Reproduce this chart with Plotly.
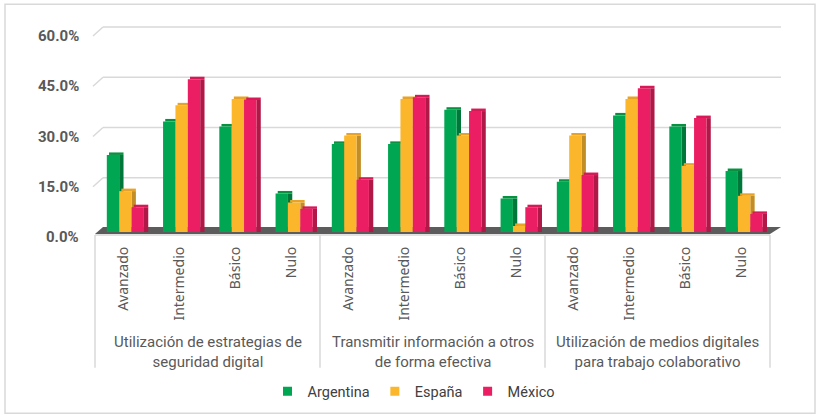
import plotly.graph_objects as go

groups = ["Utilización de estrategias de<br>seguridad digital",
          "Transmitir información a otros<br>de forma efectiva",
          "Utilización de medios digitales<br>para trabajo colaborativo"]
levels = ["Avanzado", "Intermedio", "Básico", "Nulo"]

argentina = [23.0, 33.0, 31.5, 11.5, 26.3, 26.3, 36.5, 10.0, 15.0, 34.8, 31.5, 18.2]
espana = [12.2, 37.8, 39.7, 8.8, 28.8, 39.7, 28.8, 1.8, 28.8, 39.7, 19.8, 10.8]
mexico = [7.4, 45.6, 39.4, 6.9, 15.6, 40.2, 36.1, 7.4, 17.0, 42.9, 34.0, 5.4]

y_ticks = [0, 15, 30, 45, 60]
y_tick_labels = ["0.0%", "15.0%", "30.0%", "45.0%", "60.0%"]

series = [
    ("Argentina", argentina, "#00a651", "#00773a", "#079141"),
    ("España", espana, "#fbb62b", "#c38d25", "#e8a326"),
    ("México", mexico, "#ec1e63", "#b01848", "#d61a58"),
]

cat_ids = [f"{gi}-{lv}" for gi in range(len(groups)) for lv in levels]
cat_text = [lv for _ in groups for lv in levels]

FRONT_W = 0.22
SIDE_W = 0.077
TOP_H = 0.75
START = -0.29
Y_MAX = 60

fig = go.Figure()
for i, (name, vals, col, side_col, top_col) in enumerate(series):
    x0 = START + i * FRONT_W
    fig.add_trace(go.Bar(x=cat_ids, y=vals, offset=x0 + FRONT_W, width=SIDE_W,
                         marker=dict(color=side_col, line=dict(width=0)),
                         showlegend=False, hoverinfo="skip"))
    fig.add_trace(go.Bar(x=cat_ids, y=[TOP_H] * len(vals), base=vals,
                         offset=x0 + SIDE_W / 2, width=FRONT_W + SIDE_W / 2,
                         marker=dict(color=top_col, line=dict(width=0)),
                         showlegend=False, hoverinfo="skip"))
    fig.add_trace(go.Bar(x=cat_ids, y=vals, name=name, offset=x0, width=FRONT_W,
                         marker=dict(color=col, line=dict(width=0)),
                         showlegend=False, legendgroup=name))
for name, vals, col, side_col, top_col in series:
    fig.add_trace(go.Scatter(x=[None], y=[None], mode="markers", name=name, legendgroup=name,
                             marker=dict(symbol="square", size=9, color=col)))

L, R, T, B = 95, 49, 31, 185
W, H = 819, 419
pw, ph = W - L - R, H - T - B


def px(xp):
    return (xp - L) / pw


def py(yp):
    return (H - B - yp) / ph


fig.update_layout(
    width=W, height=H,
    margin=dict(l=L, r=R, t=T, b=B),
    paper_bgcolor="white", plot_bgcolor="white",
    barmode="overlay",
    font=dict(family="Roboto", color="#595959"),
    legend=dict(orientation="h", x=px(414), xanchor="center", y=py(395), yanchor="middle",
                font=dict(size=14.5, color="#404040", family="Roboto"),
                itemwidth=30, traceorder="normal"),
)
fig.update_yaxes(range=[0, Y_MAX], showticklabels=False, showgrid=False, zeroline=False,
                 ticks="", tickvals=y_ticks)
fig.update_xaxes(type="category", categoryorder="array", categoryarray=cat_ids,
                 tickvals=cat_ids, ticktext=cat_text, tickangle=-90,
                 tickfont=dict(size=14, color="#595959", family="Noto Sans"),
                 ticks="", showline=False, showgrid=False, ticklabelstandoff=11,
                 range=[-0.5, len(cat_ids) - 0.5])

shapes = []
for v in y_ticks[1:]:
    yb = (v + 1.2) / Y_MAX
    yf = (v - 1.5) / Y_MAX
    shapes.append(dict(type="line", xref="paper", yref="paper", x0=px(103), x1=px(781),
                       y0=yb, y1=yb, line=dict(color="#d9d9d9", width=1.5), layer="below"))
    shapes.append(dict(type="line", xref="paper", yref="paper", x0=px(93), x1=px(103),
                       y0=yf, y1=yb, line=dict(color="#d9d9d9", width=1.5), layer="below"))
shapes.append(dict(type="path", xref="paper", yref="paper",
                   path=f"M {px(95)},{py(236)} L {px(770)},{py(236)} L {px(781)},{py(229)} L {px(103)},{py(229)} Z",
                   fillcolor="#5c5c5c", line=dict(width=0), layer="below"))
shapes.append(dict(type="line", xref="paper", yref="paper", x0=0, x1=1, y0=py(237), y1=py(237),
                   line=dict(color="#d9d9d9", width=1.5)))
for k in range(len(groups) + 1):
    xk = k / len(groups)
    shapes.append(dict(type="line", xref="paper", yref="paper", x0=xk, x1=xk,
                       y0=py(237), y1=py(371), line=dict(color="#d9d9d9", width=1.5)))
shapes.append(dict(type="rect", xref="paper", yref="paper",
                   x0=px(5), x1=px(815), y0=py(417), y1=py(4),
                   line=dict(color="#d9d9d9", width=1.5), layer="below"))
fig.update_layout(shapes=shapes)

annotations = []
for v, lab in zip(y_ticks, y_tick_labels):
    annotations.append(dict(xref="paper", yref="paper", x=px(81), y=(v - 1.5) / Y_MAX, text=lab,
                            showarrow=False, xanchor="right", yanchor="middle",
                            font=dict(size=15, color="#595959", family="Roboto", weight="bold")))
for gi, g in enumerate(groups):
    annotations.append(dict(xref="paper", yref="paper", x=(gi + 0.5) / len(groups), y=py(355),
                            text=g, showarrow=False, xanchor="center", yanchor="middle",
                            font=dict(size=15, color="#595959", family="Liberation Sans Narrow, Roboto")))
fig.update_layout(annotations=annotations)

fig.write_html("out.html", config={"displayModeBar": False},
               post_script="document.body.style.margin='0px';")
